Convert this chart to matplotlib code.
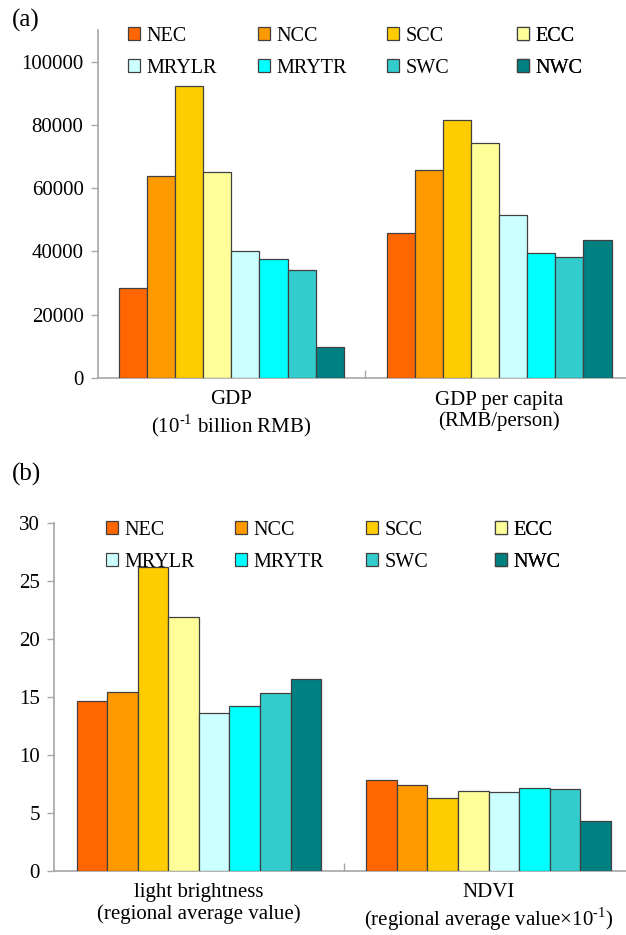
import matplotlib
matplotlib.use("Agg")
import matplotlib.pyplot as plt
import numpy as np
from matplotlib.patches import Patch

plt.rcParams['font.family'] = ['Liberation Serif', 'DejaVu Serif']
plt.rcParams['mathtext.fontset'] = 'custom'
plt.rcParams['mathtext.rm'] = 'Liberation Serif'

regions = ["NEC", "NCC", "SCC", "ECC", "MRYLR", "MRYTR", "SWC", "NWC"]
colors = ["#FF6600", "#FF9900", "#FFCC00", "#FFFF99", "#CCFFFF", "#00FFFF", "#33CCCC", "#008080"]

cats_a = ["GDP\n(10$^{\\mathregular{\\text{-}1}}$ billion RMB)", "GDP per capita\n(RMB/person)"]
gdp = [28400, 64000, 92300, 65200, 40000, 37600, 34000, 9900]
gdp_pc = [45900, 65600, 81600, 74400, 51600, 39600, 38100, 43700]

cats_b = ["light brightness\n(regional average value)",
          "NDVI\n(regional average value\u00d710$^{\\mathregular{\\text{-}1}}$)"]
light = [14.6, 15.4, 26.2, 21.9, 13.6, 14.2, 15.3, 16.5]
ndvi = [7.8, 7.4, 6.3, 6.9, 6.8, 7.1, 7.0, 4.3]

W, H = 626, 935
fig = plt.figure(figsize=(W / 100, H / 100), dpi=100)

SPINE = "#a6a6a6"
EDGE = "#404040"


def make_panel(rect, cats, series, ylim, yticks, barw, leg_x, leg_top):
    ax = fig.add_axes(rect)
    x = np.arange(len(cats))
    n = len(regions)
    for i in range(n):
        vals = [s[i] for s in series]
        ax.bar(x + (i - (n - 1) / 2) * barw, vals, width=barw, color=colors[i],
               edgecolor=EDGE, linewidth=0.9, zorder=3)
    ax.set_xlim(-0.5, len(cats) - 0.5)
    ax.set_ylim(*ylim)
    ax.set_yticks(yticks)
    ax.set_yticklabels([str(t) for t in yticks], fontsize=15)
    ax.set_xticks(x)
    ax.set_xticklabels(cats, fontsize=15, linespacing=1.15)
    ax.set_xticks(np.arange(0.5, len(cats) - 0.5, 1), minor=True)
    ax.tick_params(axis='x', which='major', length=0, pad=9)
    ax.tick_params(axis='x', which='minor', length=6, direction='in', color=SPINE, width=1)
    ax.tick_params(axis='y', length=5, direction='out', color=SPINE, width=1, pad=5)
    for s in ['top', 'right']:
        ax.spines[s].set_visible(False)
    for s in ['left', 'bottom']:
        ax.spines[s].set_color(SPINE)
        ax.spines[s].set_linewidth(1.2)
    # legend: 4 columns, 2 rows, uniformly spaced columns
    for c in range(4):
        idx = [c, c + 4]
        handles = [Patch(facecolor=colors[k], edgecolor=EDGE, linewidth=0.9) for k in idx]
        leg = ax.legend(handles, [regions[k] for k in idx], loc='upper left',
                        bbox_to_anchor=(leg_x[c] / W, 1 - leg_top / H),
                        bbox_transform=fig.transFigure, frameon=False,
                        fontsize=14.5, handlelength=0.62, handleheight=0.62,
                        handletextpad=0.3, labelspacing=0.64, borderpad=0,
                        borderaxespad=0)
        ax.add_artist(leg)
    return ax


ax_a = make_panel([97.5 / W, 1 - 378 / H, 535.5 / W, 348 / H], cats_a, [gdp, gdp_pc],
                  (0, 110000), [0, 20000, 40000, 60000, 80000, 100000], 0.105,
                  [128, 258, 387, 517], 27)
ax_b = make_panel([54 / W, 1 - 870.7 / H, 579.5 / W, 348.2 / H], cats_b, [light, ndvi],
                  (0, 30), [0, 5, 10, 15, 20, 25, 30], 0.1055,
                  [106, 235, 366, 495], 521)

fig.text(12 / W, 1 - 20 / H, "(a)", fontsize=18, va='center', ha='left')
fig.text(12 / W, 1 - 474 / H, "(b)", fontsize=18, va='center', ha='left')

fig.savefig("out.png", dpi=100)
